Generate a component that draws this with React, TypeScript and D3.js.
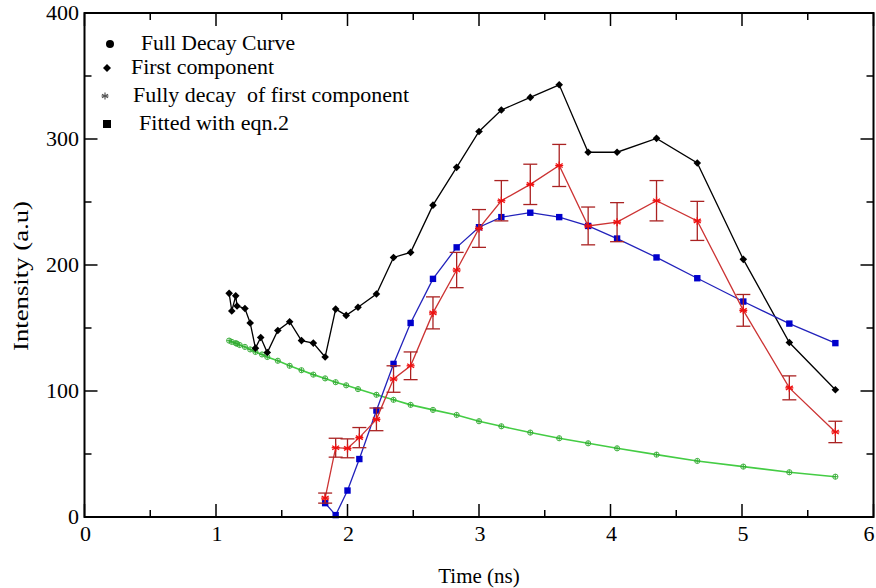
import React from "react";
import * as d3 from "d3";

// ---- data ----
const blackX = [1.10, 1.12, 1.15, 1.16, 1.22, 1.26, 1.30, 1.34, 1.39, 1.47, 1.56, 1.65, 1.74, 1.83, 1.91, 1.99, 2.08, 2.22, 2.35, 2.48, 2.65, 2.83, 3.0, 3.17, 3.39, 3.61, 3.83, 4.05, 4.35, 4.66, 5.01, 5.36, 5.71];
const blackY = [177.5, 163.5, 175.5, 167.5, 165.5, 154, 134, 142.5, 130.5, 148, 155, 140, 138, 127, 165, 160, 166.5, 177, 206, 210, 247.5, 277.5, 306, 323, 333, 343, 289.5, 289.5, 300.5, 281, 204.5, 138.5, 101];

const greenX = [1.10, 1.12, 1.15, 1.16, 1.18, 1.22, 1.26, 1.30, 1.35, 1.39, 1.47, 1.56, 1.65, 1.74, 1.83, 1.91, 1.99, 2.08, 2.22, 2.35, 2.48, 2.65, 2.83, 3.0, 3.17, 3.39, 3.61, 3.83, 4.05, 4.35, 4.66, 5.01, 5.36, 5.71];
const greenY = [140, 139, 138, 137.5, 136.5, 135, 133, 131, 129, 127, 124, 120, 116.5, 113, 110, 107, 104.5, 101.5, 97, 93, 89, 85, 81, 76, 72, 67, 62.5, 58.5, 54.5, 49.5, 44.5, 40, 35.5, 32];

const redX = [1.83, 1.91, 2.0, 2.09, 2.22, 2.35, 2.48, 2.65, 2.83, 3.0, 3.17, 3.39, 3.61, 3.83, 4.05, 4.35, 4.66, 5.01, 5.36, 5.71];
const redY = [15, 55, 54.5, 63, 77.5, 109.5, 120, 162, 196, 229, 251, 264, 279, 231, 234, 251, 235, 164, 102.5, 67.5];
const redErr = [4, 7.5, 7.5, 8, 9, 10.5, 11, 12.7, 14, 15, 16, 16, 16.7, 15, 15.5, 16, 15.5, 12.6, 9.5, 8.5];

const blueX = [1.83, 1.91, 2.0, 2.09, 2.22, 2.35, 2.48, 2.65, 2.83, 3.0, 3.17, 3.39, 3.61, 3.83, 4.05, 4.35, 4.66, 5.01, 5.36, 5.71];
const blueY = [11, 1.5, 21, 46, 84.5, 121.5, 154, 189, 214, 230, 238, 241.5, 238, 231, 221, 206, 189.5, 171, 153.5, 138];

const xTicks = [0, 1, 2, 3, 4, 5, 6];
const xMinor = [0.5, 1.5, 2.5, 3.5, 4.5, 5.5];
const yTicks = [0, 100, 200, 300, 400];
const yMinor = [50, 150, 250, 350];

const legendLabels = ["Full Decay Curve", "First component", "Fully decay  of first component", "Fitted with eqn.2"];

const W = 876, H = 588;
const L = 84.5, R = 873.5, T = 13, B = 517;
const FONT = '"Liberation Serif", "Times New Roman", Times, "DejaVu Serif", "Nimbus Roman", FreeSerif, serif';

export default function App() {
  const x = d3.scaleLinear().domain([0, 6]).range([L, R]);
  const y = d3.scaleLinear().domain([0, 400]).range([B, T]);

  const mk = (xs: number[], ys: number[]) =>
    d3.line<number>().x((_, i) => x(xs[i])).y((_, i) => y(ys[i]))(xs) || "";

  const star = (cx: number, cy: number, r: number, color: string, w = 1.3) => (
    <g stroke={color} strokeWidth={w}>
      {[0, 60, 120].map((a) => {
        const rad = (a * Math.PI) / 180 + Math.PI / 2;
        return (
          <line key={a} x1={cx - r * Math.cos(rad)} y1={cy - r * Math.sin(rad)} x2={cx + r * Math.cos(rad)} y2={cy + r * Math.sin(rad)} />
        );
      })}
      <line x1={cx - r} y1={cy} x2={cx + r} y2={cy} />
    </g>
  );

  const legendY = [44, 68, 96, 124];
  const legendTextX = [141, 131, 133, 139];
  const legendBase = [50, 74, 102, 130];
  const legendLen = [154, 143, 276, 150];
  const tStyle: React.CSSProperties = { fontFamily: FONT };

  return (
    <svg width={W} height={H} style={{ position: "absolute", left: 0, top: 0, background: "#fff" }}>
      <rect x={0} y={0} width={W} height={H} fill="#fff" />

      {/* green full decay curve */}
      <path d={mk(greenX, greenY)} fill="none" stroke="#44cc44" strokeWidth={1.6} />
      {greenX.map((v, i) => (
        <g key={"g" + i} stroke="#33aa33" strokeWidth={0.9} fill="none">
          <circle cx={x(v)} cy={y(greenY[i])} r={2.6} />
          <line x1={x(v) - 2.6} x2={x(v) + 2.6} y1={y(greenY[i])} y2={y(greenY[i])} />
          <line x1={x(v)} x2={x(v)} y1={y(greenY[i]) - 2.6} y2={y(greenY[i]) + 2.6} />
        </g>
      ))}

      {/* black first component */}
      <path d={mk(blackX, blackY)} fill="none" stroke="#000" strokeWidth={1.3} />
      {blackX.map((v, i) => {
        const cx = x(v), cy = y(blackY[i]);
        return <path key={"b" + i} d={`M${cx},${cy - 3.8}L${cx + 3.8},${cy}L${cx},${cy + 3.8}L${cx - 3.8},${cy}Z`} fill="#000" />;
      })}

      {/* blue fitted */}
      <path d={mk(blueX, blueY)} fill="none" stroke="#2222bb" strokeWidth={1.3} />
      {blueX.map((v, i) => (
        <rect key={"s" + i} x={x(v) - 3.2} y={y(blueY[i]) - 3.2} width={6.4} height={6.4} fill="#0000cc" />
      ))}

      {/* red with error bars */}
      <path d={mk(redX, redY)} fill="none" stroke="#cc3333" strokeWidth={1.3} />
      {redX.map((v, i) => {
        const cx = x(v);
        const y1 = y(redY[i] + redErr[i]), y2 = y(redY[i] - redErr[i]);
        return (
          <g key={"e" + i} stroke="#aa2222" strokeWidth={1.3}>
            <line x1={cx} x2={cx} y1={y1} y2={y2} />
            <line x1={cx - 7} x2={cx + 7} y1={y1} y2={y1} />
            <line x1={cx - 7} x2={cx + 7} y1={y2} y2={y2} />
          </g>
        );
      })}
      {redX.map((v, i) => <g key={"r" + i}>{star(x(v), y(redY[i]), 4, "#ee1111")}</g>)}

      {/* frame */}
      <rect x={L} y={T} width={R - L} height={B - T} fill="none" stroke="#000" strokeWidth={2} />

      {/* ticks */}
      <g stroke="#000" strokeWidth={1.5}>
        {xTicks.map((t) => (
          <g key={"xt" + t}>
            <line x1={x(t)} x2={x(t)} y1={B} y2={B - 13} />
            <line x1={x(t)} x2={x(t)} y1={T} y2={T + 13} />
          </g>
        ))}
        {xMinor.map((t) => (
          <g key={"xm" + t}>
            <line x1={x(t)} x2={x(t)} y1={B} y2={B - 7} />
            <line x1={x(t)} x2={x(t)} y1={T} y2={T + 7} />
          </g>
        ))}
        {yTicks.map((t) => (
          <g key={"yt" + t}>
            <line x1={L} x2={L + 13} y1={y(t)} y2={y(t)} />
            <line x1={R} x2={R - 13} y1={y(t)} y2={y(t)} />
          </g>
        ))}
        {yMinor.map((t) => (
          <g key={"ym" + t}>
            <line x1={L} x2={L + 7} y1={y(t)} y2={y(t)} />
            <line x1={R} x2={R - 7} y1={y(t)} y2={y(t)} />
          </g>
        ))}
      </g>

      {/* tick labels */}
      {xTicks.map((t) => (
        <text key={"xl" + t} x={Math.min(x(t) + 1, W - 7)} y={541} fontSize={22} textAnchor="middle" fill="#000" style={tStyle}>{t}</text>
      ))}
      {yTicks.map((t) => (
        <text key={"yl" + t} x={79} y={y(t) + 7} fontSize={22} textAnchor="end" fill="#000" style={tStyle}>{t}</text>
      ))}

      {/* axis titles */}
      <text x={479} y={583} fontSize={21} textAnchor="middle" fill="#000" style={tStyle}>Time (ns)</text>
      <text transform="translate(28,276) rotate(-90)" fontSize={21} textAnchor="middle" fill="#000" style={tStyle} textLength={150} lengthAdjust="spacingAndGlyphs">Intensity (a.u)</text>

      {/* legend */}
      <circle cx={110} cy={legendY[0]} r={4} fill="#000" />
      <path d={`M107,${legendY[1] - 4}L111,${legendY[1]}L107,${legendY[1] + 4}L103,${legendY[1]}Z`} fill="#000" />
      {star(105, legendY[2], 3.5, "#555", 1.2)}
      <rect x={103} y={legendY[3] - 4} width={8} height={8} fill="#000" />
      {legendLabels.map((s, i) => (
        <text key={"lg" + i} x={legendTextX[i]} y={legendBase[i]} fontSize={20} fill="#000" style={{ ...tStyle, whiteSpace: "pre" }} textLength={legendLen[i]} lengthAdjust="spacingAndGlyphs">{s}</text>
      ))}
    </svg>
  );
}
